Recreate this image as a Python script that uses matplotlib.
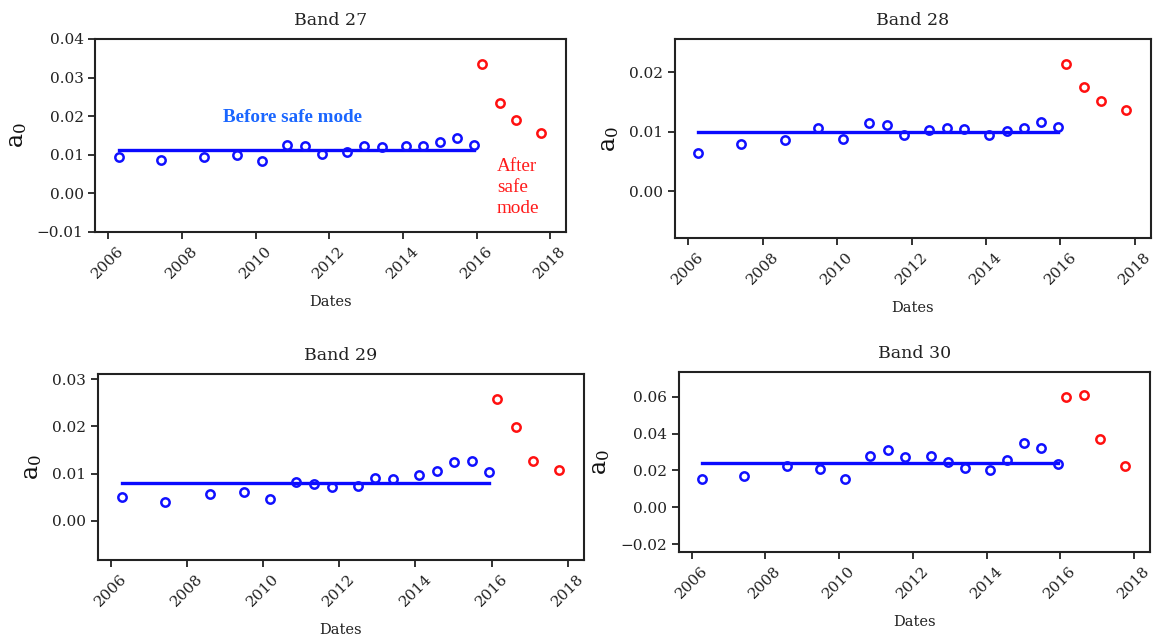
import matplotlib
matplotlib.use("Agg")
import matplotlib.pyplot as plt

plt.rcParams['font.family'] = ['DejaVu Serif']
plt.rcParams['mathtext.fontset'] = 'dejavuserif'

# decimal-year dates of the observations
dates_before = [2006.28, 2007.42, 2008.59, 2009.49, 2010.17, 2010.85, 2011.34, 2011.80,
                2012.48, 2012.95, 2013.42, 2014.09, 2014.56, 2015.01, 2015.48, 2015.94]
dates_after = [2016.15, 2016.63, 2017.08, 2017.76]

band_names = ["Band 27", "Band 28", "Band 29", "Band 30"]

b27_before = [0.0094, 0.0087, 0.0094, 0.0100, 0.0084, 0.0124, 0.0123, 0.0102,
              0.0106, 0.0123, 0.0119, 0.0123, 0.0123, 0.0132, 0.0143, 0.0126]
b27_after = [0.0335, 0.0235, 0.0189, 0.0155]
b27_mean = 0.01126

b28_before = [0.0065, 0.0079, 0.0087, 0.0107, 0.0088, 0.0114, 0.0111, 0.0094,
              0.0103, 0.0107, 0.0105, 0.0094, 0.0101, 0.0107, 0.0116, 0.0108]
b28_after = [0.0213, 0.0175, 0.0152, 0.0136]
b28_mean = 0.00994

b29_before = [0.0051, 0.0040, 0.0056, 0.0062, 0.0047, 0.0083, 0.0078, 0.0071,
              0.0074, 0.0091, 0.0089, 0.0097, 0.0105, 0.0125, 0.0127, 0.0104]
b29_after = [0.0258, 0.0199, 0.0127, 0.0108]
b29_mean = 0.0080

b30_before = [0.0155, 0.0170, 0.0224, 0.0210, 0.0155, 0.0278, 0.0311, 0.0273,
              0.0276, 0.0248, 0.0213, 0.0201, 0.0255, 0.0350, 0.0320, 0.0235]
b30_after = [0.0598, 0.0609, 0.0370, 0.0226]
b30_mean = 0.0240

year_ticks = [2006, 2008, 2010, 2012, 2014, 2016, 2018]

befores = [b27_before, b28_before, b29_before, b30_before]
afters = [b27_after, b28_after, b29_after, b30_after]
means = [b27_mean, b28_mean, b29_mean, b30_mean]

ylims = [(-0.01, 0.04), (-0.00784, 0.02553), (-0.00825, 0.0310), (-0.0240, 0.0732)]
yticks = [[-0.01, 0.0, 0.01, 0.02, 0.03, 0.04],
          [0.0, 0.01, 0.02],
          [0.0, 0.01, 0.02, 0.03],
          [-0.02, 0.0, 0.02, 0.04, 0.06]]

W, H = 1153, 635
boxes_px = [(95.4, 566, 39.0, 231.7),
            (675, 1151, 39.0, 238.3),
            (97.7, 584, 374.3, 560.0),
            (678.6, 1150, 372.3, 551.7)]

fig = plt.figure(figsize=(W / 100, H / 100), dpi=100)

for i in range(4):
    l, r, t, b = boxes_px[i]
    ax = fig.add_axes([l / W, 1 - b / H, (r - l) / W, (b - t) / H])
    ax.plot([dates_before[0], dates_before[-1]], [means[i], means[i]],
            color='#0a0aff', lw=2.4, zorder=2)
    ax.plot(dates_before, befores[i], 'o', mfc='none', mec='#1010ff', ms=6, mew=1.8, zorder=3)
    ax.plot(dates_after, afters[i], 'o', mfc='none', mec='#ff1010', ms=6, mew=1.8, zorder=3)
    ax.set_xlim(2005.65, 2018.43)
    ax.set_ylim(*ylims[i])
    ax.set_xticks(year_ticks)
    ax.set_xticklabels([str(y) for y in year_ticks], rotation=45, fontsize=11, color='#222222')
    ax.set_yticks(yticks[i])
    ax.set_yticklabels(['\u2212%.2f' % abs(v) if v < 0 else '%.2f' % v for v in yticks[i]],
                       fontsize=11, color='#222222')
    ax.tick_params(length=5, width=1.3, color='#222222')
    for s in ax.spines.values():
        s.set_linewidth(1.5)
        s.set_color('#222222')
    ax.set_title(band_names[i], fontsize=12.5, color='#222222', pad=10)
    ax.set_xlabel('Dates', fontsize=10.5, color='#222222', labelpad=10)
    ax.set_ylabel(r'$\mathrm{a}_0$', fontsize=17, color='#111111', labelpad=6)
    if i == 0:
        ax.text(2011.0, 0.0197, 'Before safe mode', color='#1a66ff', fontsize=13.7,
                fontweight='bold', family='Liberation Serif', ha='center', va='center')
        ax.text(2016.55, 0.0092, 'After\nsafe\nmode', color='#ff1a1a', fontsize=13.8,
                family='Liberation Serif', ha='left', va='top', linespacing=1.3)

fig.savefig('out.png', dpi=100)
